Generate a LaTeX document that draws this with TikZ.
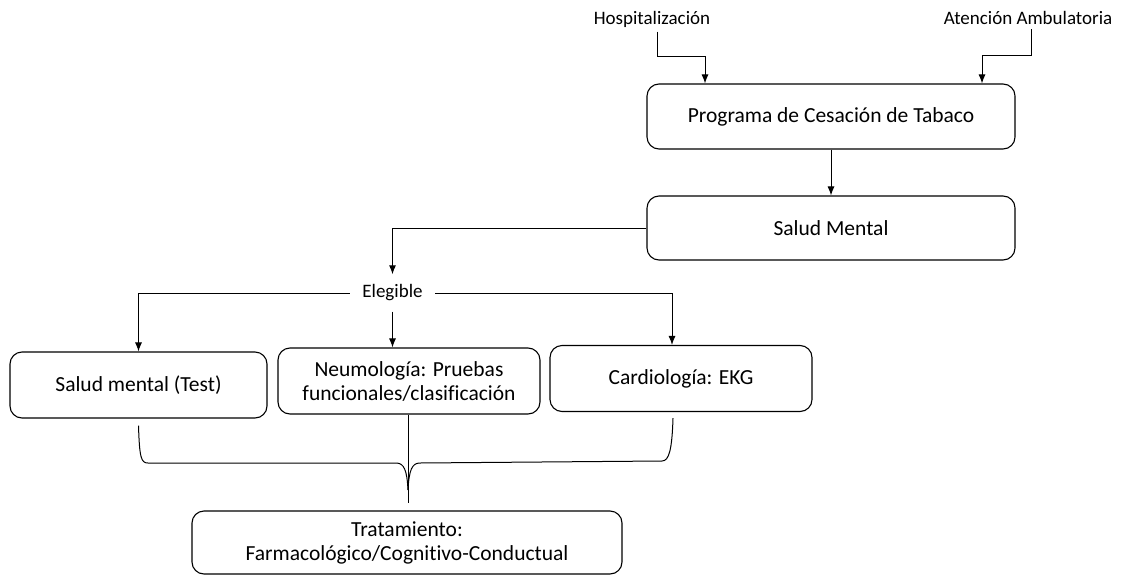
\documentclass[tikz,border=0pt]{standalone}
\usepackage{fontspec}
\setmainfont{Carlito}[Ligatures=NoCommon]
\usetikzlibrary{arrows.meta}

\begin{document}
\begin{tikzpicture}[x=1pt, y=-1pt, >={Latex[length=9pt,width=7pt]}, line width=1pt,
  caja/.style={draw, rounded corners=12pt, line width=1.1pt, align=center, inner sep=0pt, font=\fontsize{21.5}{24}\selectfont},
  etiqueta/.style={inner sep=4pt, font=\fontsize{19}{22}\selectfont}]
  \useasboundingbox (0,0) rectangle (1126,578);
  % entradas
  \node[etiqueta] (hosp) at (652,19) {Hospitalización};
  \node[etiqueta] (amb) at (1028,18) {Atención Ambulatoria};
  % cajas
  \node[caja, minimum width=368pt, minimum height=65pt] (prog) at (831,116.5) {Programa de Cesación de Tabaco};
  \node[caja, minimum width=368pt, minimum height=64pt] (salud) at (831,228) {Salud Mental};
  \node[etiqueta, inner xsep=12pt, inner ysep=10pt] (eleg) at (392.5,293) {Elegible};
  \node[caja, minimum width=257pt, minimum height=66pt] (test) at (138.5,385) {Salud mental (Test)};
  \node[caja, minimum width=262pt, minimum height=66pt] (neumo) at (409,381) {Neumología: Pruebas\\funcionales/clasificación};
  \node[caja, minimum width=262pt, minimum height=66pt] (cardio) at (681,378.5) {Cardiología: EKG};
  \node[caja, minimum width=430pt, minimum height=63pt] (trat) at (407,542.5) {Tratamiento:\\Farmacológico/Cognitivo-Conductual};
  % conectores
  \coordinate (hk) at (705,57);
  \coordinate (ak) at (982,56);
  \draw[->] ([xshift=5pt]hosp.south) |- (hk) -- (hk |- prog.north);
  \draw[->] ([xshift=3pt]amb.south) |- (ak) -- (ak |- prog.north);
  \draw[->] (prog) -- (salud);
  \draw[->] (salud.west) -| (eleg.north);
  \draw[->] (eleg.west) -| (test.north);
  \draw[->] (eleg.south) -- (eleg.south |- neumo.north);
  \draw[->] (eleg.east) -| ([xshift=-9pt]cardio.north);
  % llave hacia el tratamiento
  \coordinate (punta) at (408,490);
  \coordinate (fin) at (408,503);
  \draw ([yshift=-7pt]test.south) .. controls +(1,32) and +(-7,0) .. (148,463) -- (396,463)
    .. controls (404,463) and (407,470) .. (punta);
  \draw ([xshift=-8pt,yshift=-6pt]cardio.south) .. controls +(-1,32) and +(7,0) .. (662,461) -- (420,463)
    .. controls (412,463) and (409,470) .. (punta);
  \draw (neumo.south -| punta) -- (fin);
\end{tikzpicture}
\end{document}
